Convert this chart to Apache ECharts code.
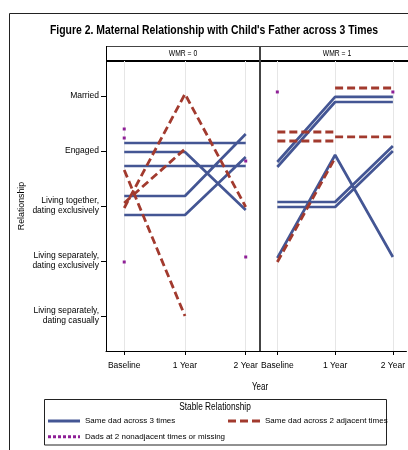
<!DOCTYPE html>
<html><head><meta charset="utf-8">
<script src="https://cdn.jsdelivr.net/npm/echarts@6/dist/echarts.min.js"></script>
<style>html,body{margin:0;padding:0;background:#fff}#c{width:408px;height:450px}</style>
</head><body><div id="c"></div>
<script>
const timeLabels = ['Baseline', '1 Year', '2 Year'];
const relationshipLabels = ['Living separately,\ndating casually', 'Living separately,\ndating exclusively', 'Living together,\ndating exclusively', 'Engaged', 'Married'];
const panelLabels = ['WMR = 0', 'WMR = 1'];
const seriesNames = ['Same dad across 3 times', 'Same dad across 2 adjacent times', 'Dads at 2 nonadjacent times or missing'];

// each subject: [Baseline, 1 Year, 2 Year]; null = no value at that time
const wmr0SameDad3 = [[4.145,4.145,4.145],[3.982,3.982,2.927],[3.727,3.727,3.727],[3.182,3.182,4.309],[2.836,2.836,3.891]];
const wmr0SameDad2 = [[2.964,5.036,2.982],[3.055,4.036,null],[3.655,1.0,null]];
const wmr0Nonadj = [[4.4,null,null],[4.236,null,3.818],[1.982,null,2.073]];
const wmr1SameDad3 = [[3.800,4.982,4.982],[3.709,4.891,4.891],[3.073,3.073,4.091],[2.982,2.982,4.0],[2.055,3.927,2.073]];
const wmr1SameDad2 = [[null,5.145,5.145],[4.345,4.345,null],[4.182,4.182,null],[null,4.255,4.255],[1.982,3.873,null]];
const wmr1Nonadj = [[5.073,null,5.073]];

const FONT = "'Liberation Sans', Arial, sans-serif";
const BLUE = '#445694', RED = '#A23A2E', PURPLE = '#8E1F96';

function toData(subjects) {
  const out = [];
  subjects.forEach(s => {
    s.forEach((v, t) => out.push(v === null ? [t, '-'] : [t, v]));
    out.push(['-', '-']);
  });
  return out;
}

const panels = [
  [wmr0SameDad3, wmr0SameDad2, wmr0Nonadj],
  [wmr1SameDad3, wmr1SameDad2, wmr1Nonadj]
];

const series = [];
panels.forEach((p, i) => {
  series.push({name: seriesNames[0], type: 'line', xAxisIndex: i, yAxisIndex: i, data: toData(p[0]),
    symbol: 'none', lineStyle: {color: BLUE, width: 2.7}, itemStyle: {color: BLUE}, z: 2});
  series.push({name: seriesNames[1], type: 'line', xAxisIndex: i, yAxisIndex: i, data: toData(p[1]),
    symbol: 'none', lineStyle: {color: RED, width: 2.8, type: [8, 4]}, itemStyle: {color: RED}, z: 3});
  series.push({name: seriesNames[2], type: 'line', xAxisIndex: i, yAxisIndex: i, data: toData(p[2]),
    symbol: 'rect', symbolSize: 3, showSymbol: true, lineStyle: {color: PURPLE, width: 3, type: [3, 2]}, itemStyle: {color: PURPLE}, z: 4});
});

const xAxes = [0, 1].map(i => ({
  gridIndex: i, type: 'value', min: -0.3, max: 2.235,
  axisLine: {show: true, onZero: false, lineStyle: {color: '#000', width: 1}},
  axisTick: {show: true, customValues: [0, 1, 2], length: 4, lineStyle: {color: '#000'}},
  axisLabel: {customValues: [0, 1, 2], formatter: v => timeLabels[Math.round(v)], margin: 10, fontSize: 8.5, color: '#000', fontFamily: FONT},
  splitLine: {show: true, lineStyle: {color: '#e6e6e6', width: 1}}
}));

const yAxes = [
  {gridIndex: 0, type: 'value', min: 0.364, max: 5.636,
   axisLine: {show: true, onZero: false, lineStyle: {color: '#000', width: 1}},
   axisTick: {show: true, customValues: [1, 2, 3, 4, 5], length: 5, lineStyle: {color: '#000'}},
   axisLabel: {customValues: [1, 2, 3, 4, 5], formatter: v => relationshipLabels[Math.round(v) - 1], margin: 7, align: 'right',
     fontSize: 8.5, lineHeight: 10, color: '#000', fontFamily: FONT},
   splitLine: {show: false},
   name: 'Relationship', nameLocation: 'middle', nameGap: 80, nameMoveOverlap: false,
   nameTextStyle: {fontSize: 8.8, color: '#000', fontFamily: FONT}},
  {gridIndex: 1, type: 'value', min: 0.364, max: 5.636,
   axisLine: {show: true, onZero: false, lineStyle: {color: '#444', width: 2}},
   axisTick: {show: false}, axisLabel: {show: false}, splitLine: {show: false}}
];

const legendCommon = {
  orient: 'vertical', padding: 0, itemWidth: 32, itemHeight: 10, itemGap: 5.7, selectedMode: false,
  itemStyle: {opacity: 0}, lineStyle: {width: 3},
  textStyle: {fontSize: 8, lineHeight: 10, color: '#000', fontFamily: FONT}
};

function gText(x, y, text, size, sx, weight) {
  return {type: 'text', silent: true, x: x, y: y, scaleX: sx,
    style: {text: text, align: 'center', verticalAlign: 'middle', fontSize: size, fontWeight: weight || 'normal', fontFamily: FONT, fill: '#000'}};
}

const option = {
  animation: false,
  grid: [
    {left: 106, top: 61, width: 154, height: 290},
    {left: 260, top: 61, width: 154, height: 290}
  ],
  xAxis: xAxes,
  yAxis: yAxes,
  legend: [
    Object.assign({}, legendCommon, {left: 46.5, top: 416, data: [seriesNames[0], seriesNames[2]]}),
    Object.assign({}, legendCommon, {left: 226.5, top: 416, data: [seriesNames[1]]})
  ],
  series: series,
  graphic: [
    {type: 'rect', silent: true, shape: {x: 9.5, y: 13.5, width: 430, height: 450}, style: {fill: 'none', stroke: '#222', lineWidth: 1}},
    gText(214, 31, "Figure 2. Maternal Relationship with Child's Father across 3 Times", 12, 0.868, 'bold'),
    {type: 'line', silent: true, shape: {x1: 106, y1: 46.5, x2: 414, y2: 46.5}, style: {stroke: '#444', lineWidth: 1}},
    {type: 'line', silent: true, shape: {x1: 106, y1: 61, x2: 414, y2: 61}, style: {stroke: '#000', lineWidth: 2}},
    {type: 'line', silent: true, shape: {x1: 106.5, y1: 46, x2: 106.5, y2: 61}, style: {stroke: '#000', lineWidth: 1}},
    {type: 'line', silent: true, shape: {x1: 260, y1: 46, x2: 260, y2: 61}, style: {stroke: '#444', lineWidth: 2}},
    gText(183, 54, panelLabels[0], 9, 0.75),
    gText(337, 54, panelLabels[1], 9, 0.75),
    gText(260, 387, 'Year', 10, 0.8),
    {type: 'rect', silent: true, shape: {x: 44.5, y: 399.5, width: 342, height: 45.5}, style: {fill: 'none', stroke: '#222', lineWidth: 1}},
    gText(215, 407, 'Stable Relationship', 10, 0.83)
  ]
};

const chart = echarts.init(document.getElementById('c'), null, {renderer: 'canvas'});
chart.setOption(option);
</script>
</body></html>
